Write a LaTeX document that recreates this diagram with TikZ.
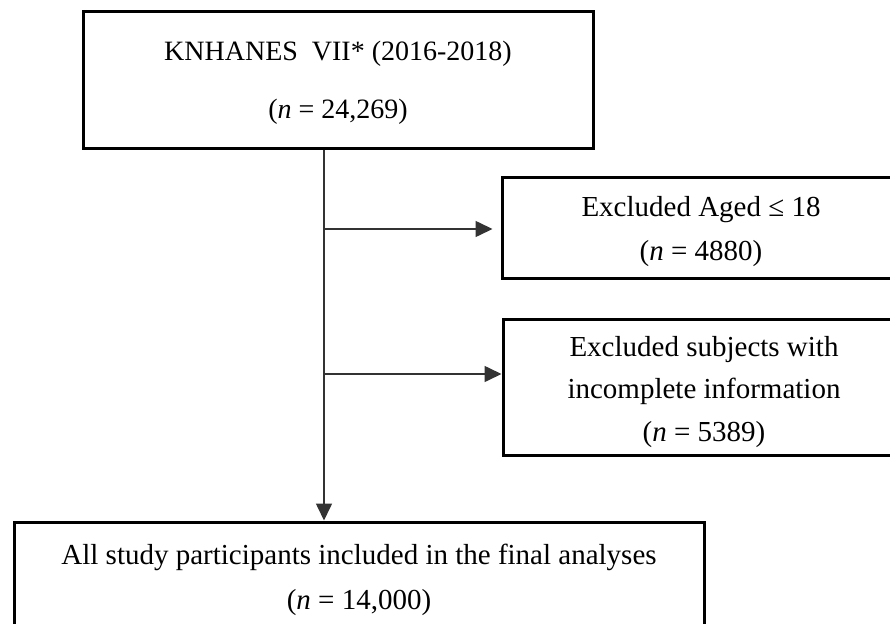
\documentclass[tikz,border=0pt]{standalone}
\usepackage{fontspec}
\setmainfont{Liberation Serif}
\usetikzlibrary{arrows.meta}

\begin{document}
\begin{tikzpicture}[x=1pt,y=-1pt,
        box/.style={draw,line width=3pt,align=center,inner sep=0pt,
            font=\fontsize{29}{44}\selectfont},
        flow/.style={line width=1.6pt,draw=black!80,
            -{Triangle[length=17pt,width=16pt]}}]
        \useasboundingbox (0,0) rectangle (890,623);
        \clip (0,0) rectangle (890,623);
        \node[box,minimum width=510pt,minimum height=136pt,
            font=\fontsize{28}{58}\selectfont] (knhanes) at (338,80)
            {\rule{0pt}{24pt}KNHANES\ \ VII* (2016-2018)\\(\textit{n} = 24,269)};
        \node[box,minimum width=398pt,minimum height=101pt] (aged) at (701,227.5)
            {\rule{0pt}{28pt}Excluded Aged ≤ 18\\(\textit{n} = 4880)};
        \node[box,minimum width=402pt,minimum height=136pt,
            font=\fontsize{29}{42.5}\selectfont] (incomplete) at (704,387)
            {\rule{0pt}{30pt}Excluded subjects with\\incomplete information\\(\textit{n} = 5389)};
        \node[box,minimum width=690pt,minimum height=111pt,
            font=\fontsize{29}{45}\selectfont] (final) at (359,577.5)
            {\rule{0pt}{25pt}All study participants included in the final analyses\\(\textit{n} = 14,000)};
        \coordinate (split1) at (324,229);
        \coordinate (split2) at (324,374);
        \draw[flow] (knhanes.south -| split1) -- (final.north -| split1);
        \draw[flow,shorten >=8pt] (split1) -- (split1 -| aged.west);
        \draw[flow] (split2) -- (split2 -| incomplete.west);
\end{tikzpicture}
\end{document}
